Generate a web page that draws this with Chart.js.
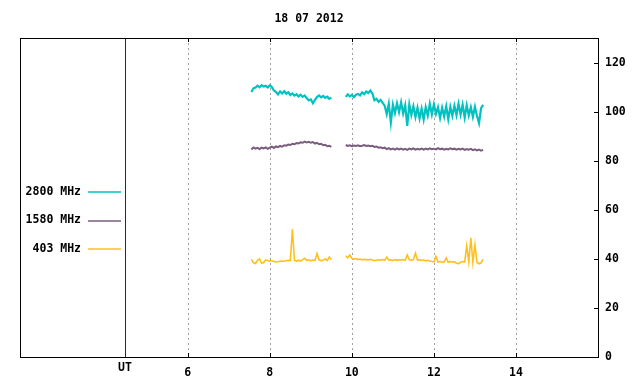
<!DOCTYPE html>
<html>
<head>
<meta charset="utf-8">
<script src="https://cdn.jsdelivr.net/npm/chart.js@4.4.0/dist/chart.umd.min.js"></script>
<style>
  body { margin: 0; background: #fff; }
</style>
</head>
<body>
<canvas id="chart" width="640" height="384"></canvas>
<script>
const chartTitle = "18 07 2012";
const seriesNames = ["2800 MHz", "1580 MHz", "403 MHz"];
const seriesColors = ["#00c2c0", "#7a5c7e", "#ffc01e"];

// x axis (hours UT)
const xTicks = [6, 8, 10, 12, 14];
const yTicks = [0, 20, 40, 60, 80, 100, 120];
const utMarker = 4.47;

// samples every 0.05 h from 07:33 UT, null = no data
const startUT = 7.55;
const stepUT = 0.05;

const flux2800 = [
  108.0, 109.5, 109.8, 110.6, 109.9, 110.8, 110.2, 110.5, 109.8, 110.7,
  110.0, 108.6, 108.0, 107.0, 108.2, 107.4, 108.3, 107.3, 107.9, 106.8,
  107.4, 106.5, 107.1, 106.2, 106.9, 106.0, 106.6, 105.4, 104.6, 105.0,
  103.4, 104.8, 105.9, 106.6, 105.8, 106.4, 105.6, 106.1, 105.2, 105.7,
  null, null, null, null, null, null,
  106.0, 107.0, 106.2, 106.8, 105.9, 106.9, 107.2, 106.6, 107.8, 107.1,
  108.2, 107.6, 108.6, 107.4, 104.6, 105.2, 104.0, 104.8, 103.6, 102.4,
  99.0, 103.2, 95.6, 102.8, 99.4, 103.4, 99.8, 103.8, 99.2, 102.6,
  94.2, 102.9, 98.6, 102.2, 97.8, 101.6, 97.2, 101.2, 96.8, 101.8,
  98.4, 103.2, 98.9, 103.0, 99.1, 101.8, 97.4, 101.6, 98.0, 102.2,
  96.9, 101.9, 98.3, 102.4, 98.6, 103.2, 98.8, 102.8, 97.6, 102.6,
  98.4, 101.8, 97.9, 102.0, 98.2, 95.3, 101.4, 102.8
];

const flux1580 = [
  84.6, 85.4, 84.9, 85.2, 84.7, 85.3, 85.0, 85.4, 84.8, 85.3,
  85.7, 85.2, 85.8, 85.5, 86.0, 85.7, 86.3, 86.1, 86.6, 86.4,
  86.9, 86.7, 87.2, 87.0, 87.5, 87.3, 87.8, 87.4, 87.7, 87.3,
  87.6, 87.0, 87.3, 86.7, 86.9, 86.3, 86.5, 85.9, 86.1, 85.6,
  null, null, null, null, null, null,
  86.4, 86.0, 86.3, 85.9, 86.2, 86.0, 86.3, 85.9, 86.1, 86.4,
  86.0, 86.2, 85.9, 86.1, 85.6, 85.8, 85.3, 85.5, 85.1, 85.3,
  84.7, 85.1, 84.6, 84.9, 84.5, 85.0, 84.6, 84.9, 84.5, 84.8,
  84.4, 84.9, 84.6, 85.0, 84.5, 84.8, 84.6, 84.9, 84.5, 84.9,
  84.6, 85.0, 84.7, 84.9, 84.6, 85.1, 84.7, 84.9, 84.5, 84.8,
  84.6, 85.0, 84.7, 84.9, 84.5, 84.8, 84.6, 84.9, 84.4, 84.7,
  84.5, 84.8, 84.3, 84.6, 84.2, 84.5, 84.1, 84.4
];

const flux403 = [
  39.8, 38.4, 38.1, 39.4, 40.0, 38.2, 38.5, 39.6, 39.3, 39.1,
  39.3, 38.9, 38.7, 38.8, 39.0, 39.1, 39.0, 39.2, 39.4, 39.3,
  52.0, 39.4, 39.0, 39.5, 39.1, 39.7, 40.2, 39.4, 39.6, 39.2,
  39.5, 39.3, 42.2, 39.6, 39.2, 39.5, 40.0, 39.3, 40.8, 39.6,
  null, null, null, null, null, null,
  41.2, 40.4, 41.6, 40.2, 39.8, 40.1, 39.7, 39.9, 39.6, 39.8,
  39.7, 39.6, 39.8, 39.5, 39.3, 39.4, 39.6, 39.5, 39.7, 39.4,
  40.7, 39.5, 39.6, 39.3, 39.7, 39.4, 39.6, 39.5, 39.7, 39.4,
  41.6, 39.6, 39.5, 39.7, 42.3, 39.5, 39.6, 39.4, 39.5, 39.2,
  39.4, 39.1, 38.9, 38.8, 41.0, 38.7, 38.9, 38.6, 38.8, 40.4,
  38.6, 38.9, 38.7, 38.8, 38.2, 38.0, 38.6, 38.9, 38.7, 45.3,
  38.8, 48.6, 38.6, 45.7, 38.5, 38.0, 38.4, 39.8
];

const FONT = { family: "'DejaVu Sans Mono', monospace", size: 11.5, weight: "bold" };
const fontStr = "bold 11.5px 'DejaVu Sans Mono', monospace";

function toPoints(values) {
  return values.map((v, i) => ({ x: +(startUT + i * stepUT).toFixed(2), y: v }));
}

// frame, dashed grid, UT marker, legend and title
const decorPlugin = {
  id: "decor",
  beforeDatasetsDraw(chart) {
    const { ctx, chartArea: a, scales } = chart;
    ctx.save();
    ctx.strokeStyle = "#a0a0a0";
    ctx.lineWidth = 1;
    ctx.setLineDash([2, 3]);
    xTicks.forEach(v => {
      const px = Math.round(scales.x.getPixelForValue(v)) + 0.5;
      ctx.beginPath();
      ctx.moveTo(px, a.top);
      ctx.lineTo(px, a.bottom);
      ctx.stroke();
    });
    ctx.setLineDash([]);
    // UT marker line
    const ux = Math.round(scales.x.getPixelForValue(utMarker)) + 0.5;
    ctx.strokeStyle = "#900000";
    ctx.beginPath();
    ctx.moveTo(ux, a.top);
    ctx.lineTo(ux, a.bottom);
    ctx.stroke();
    ctx.restore();
  },
  afterDatasetsDraw(chart) {
    const { ctx, chartArea: a, scales } = chart;
    ctx.save();
    ctx.strokeStyle = "#000";
    ctx.lineWidth = 1;
    ctx.strokeRect(Math.round(a.left) + 0.5, Math.round(a.top) + 0.5,
      Math.round(a.right - a.left), Math.round(a.bottom - a.top));

    // small tick marks
    ctx.beginPath();
    xTicks.forEach(v => {
      const px = Math.round(scales.x.getPixelForValue(v)) + 0.5;
      ctx.moveTo(px, a.bottom);
      ctx.lineTo(px, a.bottom - 4);
      ctx.moveTo(px, a.top);
      ctx.lineTo(px, a.top + 4);
    });
    yTicks.forEach(v => {
      const py = Math.round(scales.y.getPixelForValue(v)) + 0.5;
      ctx.moveTo(a.right, py);
      ctx.lineTo(a.right - 4, py);
    });
    ctx.stroke();

    ctx.font = fontStr;
    ctx.fillStyle = "#000";
    ctx.textBaseline = "middle";

    // title
    ctx.textAlign = "center";
    ctx.fillText(chartTitle, (a.left + a.right) / 2, 19);

    // UT label
    ctx.fillText("UT", scales.x.getPixelForValue(utMarker), 368);

    // legend
    chart.data.datasets.forEach((ds, i) => {
      const ly = 192 + i * 28.5;
      ctx.textAlign = "right";
      ctx.fillStyle = "#000";
      ctx.fillText(ds.label, 81, ly);
      ctx.strokeStyle = ds.borderColor;
      ctx.lineWidth = 1.5;
      ctx.beginPath();
      ctx.moveTo(88, Math.round(ly));
      ctx.lineTo(121, Math.round(ly));
      ctx.stroke();
    });
    ctx.restore();
  }
};

new Chart(document.getElementById("chart"), {
  type: "line",
  data: {
    datasets: [
      { label: seriesNames[0], data: toPoints(flux2800), borderColor: seriesColors[0], borderWidth: 2.2 },
      { label: seriesNames[1], data: toPoints(flux1580), borderColor: seriesColors[1], borderWidth: 2 },
      { label: seriesNames[2], data: toPoints(flux403), borderColor: seriesColors[2], borderWidth: 1.6 }
    ]
  },
  options: {
    responsive: false,
    devicePixelRatio: 1,
    animation: false,
    spanGaps: false,
    elements: { point: { radius: 0 }, line: { tension: 0 } },
    layout: { padding: { left: 20, top: 38, right: 0, bottom: 0 } },
    plugins: { legend: { display: false }, tooltip: { enabled: false }, title: { display: false } },
    scales: {
      x: {
        type: "linear",
        position: "bottom",
        min: 1.91,
        max: 16,
        afterBuildTicks: s => { s.ticks = xTicks.map(v => ({ value: v })); },
        afterFit: s => { s.height = 27; },
        grid: { display: false, drawTicks: false },
        border: { display: false },
        ticks: { color: "#000", font: FONT, padding: 9, maxRotation: 0 }
      },
      y: {
        type: "linear",
        position: "right",
        min: 0,
        max: 130,
        afterBuildTicks: s => { s.ticks = yTicks.map(v => ({ value: v })); },
        afterFit: s => { s.width = 42; },
        grid: { display: false, drawTicks: false },
        border: { display: false },
        ticks: { color: "#000", font: FONT, padding: 7 }
      }
    }
  },
  plugins: [decorPlugin]
});
</script>
</body>
</html>
